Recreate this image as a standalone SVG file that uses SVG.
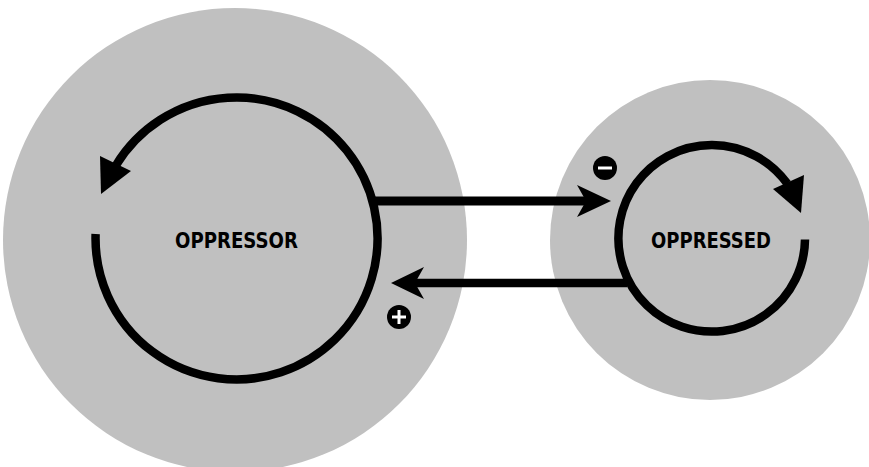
<svg xmlns="http://www.w3.org/2000/svg" width="869" height="467" viewBox="0 0 869 467">
<style>
.bg{fill:#c0c0c0}
.ring{fill:none;stroke:#000;stroke-width:8.5}
.head{fill:#000}
.lbl{font-family:"DejaVu Sans Condensed","DejaVu Sans",sans-serif;font-weight:bold;font-size:21px;fill:#000;text-anchor:middle}
.sign{fill:#000}
.sym{stroke:#fff;stroke-width:3;fill:none}
</style>
<rect width="869" height="467" fill="#fff"/>
<g id="oppressor">
<circle class="bg" cx="235" cy="240" r="232"/>
<path class="ring" d="M 95.6 234 A 141 141 0 1 0 116.1 165.1"/>
<polygon class="head" points="100,156 131,171 101,194"/>
<text class="lbl" x="236.5" y="247.5" textLength="123" lengthAdjust="spacingAndGlyphs">OPPRESSOR</text>
</g>
<g id="oppressed">
<circle class="bg" cx="710" cy="240" r="160"/>
<path class="ring" d="M 805 239.5 A 93.3 93.3 0 1 1 787.3 183.6"/>
<polygon class="head" points="773,189 804,175 801,213"/>
<text class="lbl" x="711" y="247.5" textLength="120" lengthAdjust="spacingAndGlyphs">OPPRESSED</text>
</g>
<g id="connectors">
<line x1="372" y1="201" x2="590" y2="201" stroke="#000" stroke-width="9"/>
<polygon class="head" points="577,185 611,201 577,217 586,201"/>
<line x1="627" y1="283" x2="408" y2="283" stroke="#000" stroke-width="8.5"/>
<polygon class="head" points="424,267 391,283 424,299 415,283"/>
</g>
<g id="minus">
<circle class="sign" cx="605" cy="168" r="12"/>
<line class="sym" x1="598" y1="168" x2="612" y2="168"/>
</g>
<g id="plus">
<circle class="sign" cx="399" cy="317" r="12"/>
<line class="sym" x1="392" y1="317" x2="406" y2="317"/>
<line class="sym" x1="399" y1="310" x2="399" y2="324"/>
</g>
</svg>
